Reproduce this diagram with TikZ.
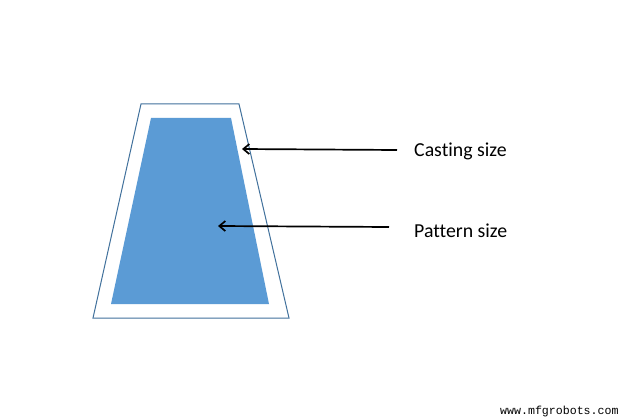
\documentclass[tikz,border=0pt]{standalone}
\usepackage{fontspec}
\setmainfont{Carlito}[Ligatures={NoCommon}]
\newfontfamily\wmfont{Liberation Mono}
\usetikzlibrary{arrows.meta}
\definecolor{fillblue}{HTML}{5B9BD5}
\definecolor{lineblue}{HTML}{41719C}
\begin{document}
\begin{tikzpicture}[x=1pt,y=-1pt,
  outline/.style={draw=lineblue,line width=1pt},
  pointer/.style={draw=black,line width=1.7pt,-{Straight Barb[length=6pt,width=10pt,line width=1.7pt]}},
  lbl/.style={anchor=west,inner sep=0pt,font=\fontsize{19.8}{24}\selectfont}]
\useasboundingbox[fill=white] (0,0) rectangle (630,420);
\draw[outline] (141,104) -- (239,104) -- (289,318) -- (93,318) -- cycle;
\fill[fillblue] (151,118) -- (231,118) -- (269,304) -- (111,304) -- cycle;
\coordinate (c1) at (242,149);
\coordinate (c2) at (218,226);
\node[lbl] (cast) at (414,151) {Casting size};
\node[lbl] (patt) at (414,231) {Pattern size};
\coordinate (s1) at (397,150);
\coordinate (s2) at (389,227);
\draw[pointer] (s1) -- (c1);
\draw[pointer] (s2) -- (c2);
\node[anchor=west,inner sep=0pt,font=\wmfont\fontsize{11.6}{13}\selectfont] (wm) at (500,411) {www.mfgrobots.com};
\end{tikzpicture}
\end{document}
